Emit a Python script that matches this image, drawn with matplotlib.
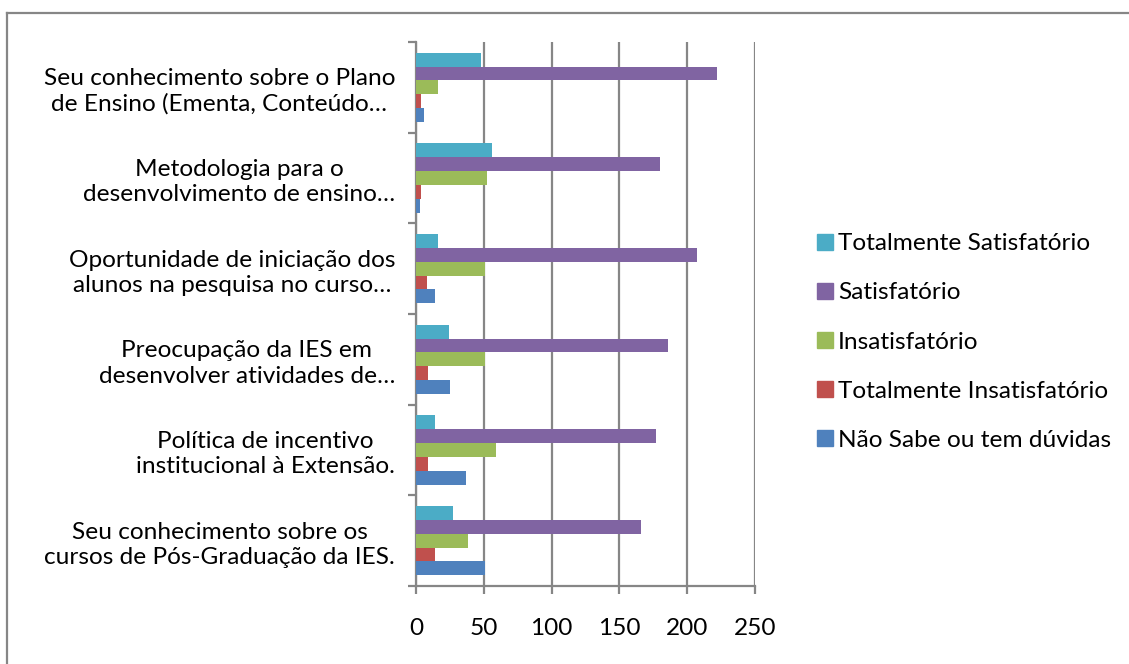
import matplotlib
matplotlib.use("Agg")
import matplotlib.pyplot as plt
from matplotlib.lines import Line2D
import numpy as np

# Categories listed bottom -> top (as plotted)
categories = [
    "Seu conhecimento sobre os\ncursos de Pós-Graduação da IES.",
    "Política de incentivo\ninstitucional à Extensão.",
    "Preocupação da IES em\ndesenvolver atividades de…",
    "Oportunidade de iniciação dos\nalunos na pesquisa no curso…",
    "Metodologia para o\ndesenvolvimento de ensino…",
    "Seu conhecimento sobre o Plano\nde Ensino (Ementa, Conteúdo…",
]

series_names = [
    "Não Sabe ou tem dúvidas",
    "Totalmente Insatisfatório",
    "Insatisfatório",
    "Satisfatório",
    "Totalmente Satisfatório",
]
nao_sabe = [51, 37, 25, 14, 3, 6]
tot_insatisfatorio = [14, 9, 9, 8, 4, 4]
insatisfatorio = [38, 59, 51, 51, 52, 16]
satisfatorio = [166, 177, 186, 207, 180, 222]
tot_satisfatorio = [27, 14, 24, 16, 56, 48]
series_values = [nao_sabe, tot_insatisfatorio, insatisfatorio, satisfatorio, tot_satisfatorio]
colors = ["#4F81BD", "#C0504D", "#9BBB59", "#8064A2", "#4BACC6"]

xticks = [0, 50, 100, 150, 200, 250]

FONT = "Lato"
FS = 17.6
GRAY = "#868686"

W, H = 1129, 664
fig = plt.figure(figsize=(W / 100, H / 100), dpi=100)

ax = fig.add_axes([416 / W, (H - 586) / H, (755 - 416) / W, (586 - 42) / H])

bh = 0.153
y = np.arange(len(categories))
for i, (vals, c, name) in enumerate(zip(series_values, colors, series_names)):
    ax.barh(y + (i - 2) * bh, vals, height=bh, color=c, label=name, zorder=3)

ax.set_xlim(0, 250)
ax.set_ylim(-0.5, len(categories) - 0.5)
ax.set_xticks(xticks)
ax.set_xticklabels([str(t) for t in xticks], fontfamily=FONT, fontsize=FS)
ax.xaxis.grid(True, color=GRAY, linewidth=1.6, zorder=0)

ax.set_yticks(y)
ax.set_yticklabels(categories, fontfamily=FONT, fontsize=FS)
ax.set_yticks(np.arange(-0.5, len(categories), 1.0), minor=True)
ax.tick_params(axis="y", which="major", length=0, pad=15)
ax.tick_params(axis="y", which="minor", length=6, width=1.6, color=GRAY, direction="out")
ax.tick_params(axis="x", which="major", length=6, width=1.6, color=GRAY, direction="out", pad=17)
for lbl in ax.get_yticklabels():
    lbl.set_multialignment("center")
    lbl.set_linespacing(1.25)

for s in ["top", "right"]:
    ax.spines[s].set_visible(False)
for s in ["left", "bottom"]:
    ax.spines[s].set_color(GRAY)
    ax.spines[s].set_linewidth(1.6)

# Legend
legend_order = [4, 3, 2, 1, 0]
handles = [Line2D([], [], marker="s", linestyle="none", markersize=11.5,
                  markerfacecolor=colors[i], markeredgecolor=colors[i]) for i in legend_order]
labels = [series_names[i] for i in legend_order]
fig.legend(handles, labels, loc="center left", bbox_to_anchor=(815 / W, 1 - 342 / H),
           frameon=False, prop={"family": FONT, "size": FS}, handlelength=0.8,
           handletextpad=0.15, labelspacing=1.15, borderaxespad=0, borderpad=0)

# Chart frame (left and top edges visible)
fig.add_artist(Line2D([7 / W, 7 / W], [0, 1 - 13 / H], transform=fig.transFigure, color=GRAY, linewidth=1.6))
fig.add_artist(Line2D([7 / W, 1], [1 - 13 / H, 1 - 13 / H], transform=fig.transFigure, color=GRAY, linewidth=1.6))

fig.savefig("out.png", dpi=100)
